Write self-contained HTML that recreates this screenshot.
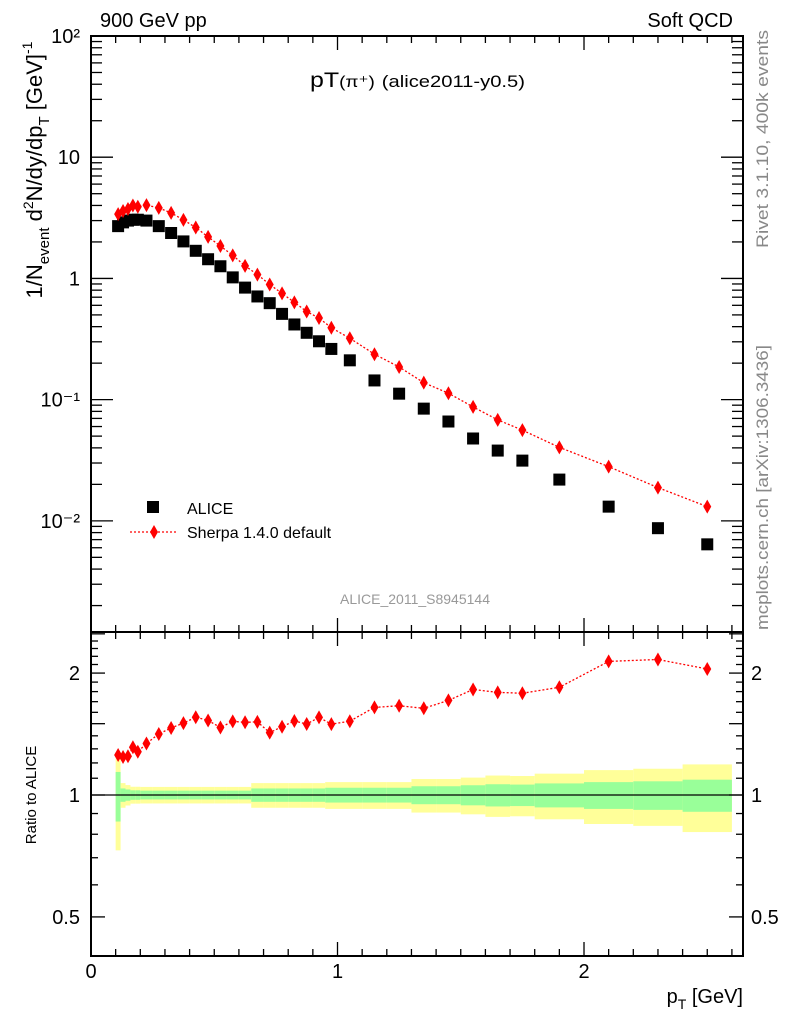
<!DOCTYPE html>
<html><head><meta charset="utf-8"><style>
body{margin:0;background:#fff;}
svg{display:block;font-family:"Liberation Sans",sans-serif;}
</style></head><body>
<svg id="c" width="786" height="1024" viewBox="0 0 786 1024">
<g id="bands"></g>
<g id="marks"></g>
<g id="axes"></g>
<text x="100" y="27" font-size="20">900 GeV pp</text>
<text x="733" y="27" font-size="20" text-anchor="end">Soft QCD</text>
<text x="310" y="87" font-size="21" textLength="215" lengthAdjust="spacingAndGlyphs">pT<tspan font-size="16">(π⁺)</tspan> <tspan font-size="17">(alice2011-y0.5)</tspan></text>
<text x="415" y="604" font-size="14" fill="#999" text-anchor="middle">ALICE_2011_S8945144</text>
<text transform="translate(768,30) rotate(-90)" font-size="17" fill="#888" text-anchor="end" textLength="218" lengthAdjust="spacingAndGlyphs">Rivet 3.1.10,  400k events</text>
<text transform="translate(768,630) rotate(-90)" font-size="17" fill="#888" textLength="285" lengthAdjust="spacingAndGlyphs">mcplots.cern.ch [arXiv:1306.3436]</text>
<text transform="translate(42,170) rotate(-90)" font-size="22" text-anchor="middle">1/N<tspan font-size="15" dy="7">event</tspan><tspan dy="-7"> d</tspan><tspan font-size="14" dy="-9">2</tspan><tspan dy="9">N/dy/dp</tspan><tspan font-size="15" dy="7">T</tspan><tspan dy="-7">  [GeV]</tspan><tspan font-size="14" dy="-10">-1</tspan></text>
<text transform="translate(36,795) rotate(-90)" font-size="15" text-anchor="middle">Ratio to ALICE</text>
<text x="743" y="1003" font-size="20" text-anchor="end">p<tspan font-size="14" dy="6">T</tspan><tspan dy="-6"> [GeV]</tspan></text>
<g>
<rect x="147" y="501" width="12" height="12" fill="#000"/>
<text x="187" y="514" font-size="16">ALICE</text>
<line x1="130" y1="532" x2="178" y2="532" stroke="red" stroke-width="1.3" stroke-dasharray="2,2"/>
<path d="M154 525 L158 532 L154 539 L150 532 Z" fill="red"/>
<text x="187" y="538" font-size="16">Sherpa 1.4.0 default</text>
</g>
</svg>
<script>
const ptCenters=[0.11,0.13,0.15,0.17,0.19,0.225,0.275,0.325,0.375,0.425,0.475,0.525,0.575,0.625,0.675,0.725,0.775,0.825,0.875,0.925,0.975,1.05,1.15,1.25,1.35,1.45,1.55,1.65,1.75,1.9,2.1,2.3,2.5];
const binEdges=[0.1,0.12,0.14,0.16,0.18,0.2,0.25,0.3,0.35,0.4,0.45,0.5,0.55,0.6,0.65,0.7,0.75,0.8,0.85,0.9,0.95,1.0,1.1,1.2,1.3,1.4,1.5,1.6,1.7,1.8,2.0,2.2,2.4,2.6];
const aliceValues=[2.7,2.9,3.0,3.05,3.05,3.0,2.7,2.37,2.02,1.69,1.44,1.26,1.02,0.84,0.71,0.625,0.51,0.417,0.356,0.303,0.262,0.211,0.144,0.112,0.0843,0.066,0.0478,0.038,0.0314,0.0219,0.0131,0.0087,0.0064];
const sherpaValues=[3.39,3.60,3.74,4.00,3.90,4.02,3.82,3.47,3.04,2.63,2.20,1.85,1.55,1.27,1.076,0.891,0.752,0.635,0.533,0.471,0.392,0.321,0.237,0.186,0.138,0.113,0.0871,0.0681,0.056,0.0404,0.028,0.0188,0.0131];
const innerErr=[0.14,0.038,0.032,0.027,0.027,0.025,0.025,0.025,0.025,0.025,0.025,0.025,0.025,0.025,0.038,0.038,0.038,0.038,0.038,0.038,0.042,0.042,0.042,0.042,0.051,0.051,0.057,0.063,0.061,0.068,0.076,0.081,0.091];
const outerErr=[0.27,0.07,0.058,0.048,0.048,0.047,0.047,0.047,0.047,0.047,0.047,0.047,0.047,0.047,0.07,0.07,0.07,0.07,0.07,0.07,0.076,0.076,0.076,0.076,0.095,0.095,0.104,0.117,0.114,0.129,0.152,0.161,0.19];
const mainYLabels=["10²","10","1","10⁻¹","10⁻²"];
const ratioYLabels=["2","1","0.5"];
const xLabels=["0","1","2"];

const NS="http://www.w3.org/2000/svg";
const L=91,R=743,T=36,M=632,B=956;
const X=v=>L+(v-0)/2.645*(R-L);
const YM=v=>T+(2-Math.log10(v))*(M-T)/(2+2.917);
const YR=v=>795-Math.log10(v)*405;
function mk(tag,attrs,parent){const e=document.createElementNS(NS,tag);for(const k in attrs)e.setAttribute(k,attrs[k]);parent.appendChild(e);return e;}
const axes=document.getElementById('axes'),marks=document.getElementById('marks'),bands=document.getElementById('bands');

for(let i=0;i<binEdges.length-1;i++){
  const x1=X(binEdges[i]),x2=X(binEdges[i+1]);
  const y=mk('rect',{x:x1,y:YR(1+outerErr[i]),width:x2-x1,height:YR(1-outerErr[i])-YR(1+outerErr[i]),fill:'#ffff99'},bands);
  
  
  const g=mk('rect',{x:x1,y:YR(1+innerErr[i]),width:x2-x1,height:YR(1-innerErr[i])-YR(1+innerErr[i]),fill:'#99ff99'},bands);
  
  
}
const one=mk('line',{x1:L,x2:R,y1:YR(1),y2:YR(1),stroke:'#000','stroke-width':1.3},axes);



let pts=sherpaValues.map((v,i)=>X(ptCenters[i])+','+YM(v)).join(' ');
const sl=mk('polyline',{points:pts,fill:'none',stroke:'red','stroke-width':1.3,'stroke-dasharray':'2,2'},marks);


aliceValues.forEach((v,i)=>{
  const r=mk('rect',{x:X(ptCenters[i])-6,y:YM(v)-6,width:12,height:12,fill:'#000'},marks);
  
  
});
function diamond(x,y,p){const d=mk('path',{d:`M${x} ${y-7}L${x+4} ${y}L${x} ${y+7}L${x-4} ${y}Z`,fill:'red'},p);return d;}
sherpaValues.forEach((v,i)=>{
  const d=diamond(X(ptCenters[i]),YM(v),marks);
  
  
});
const ratios=sherpaValues.map((v,i)=>v/aliceValues[i]);
pts=ratios.map((v,i)=>X(ptCenters[i])+','+YR(v)).join(' ');
const rl=mk('polyline',{points:pts,fill:'none',stroke:'red','stroke-width':1.3,'stroke-dasharray':'2,2'},marks);


ratios.forEach((v,i)=>{
  const d=diamond(X(ptCenters[i]),YR(v),marks);
  
  
});

[[T,M],[M,B]].forEach(([a,b])=>{
  const f=mk('rect',{x:L,y:a,width:R-L,height:b-a,fill:'none',stroke:'#000','stroke-width':2},axes);
  
  
});
function tick(x1,y1,x2,y2){mk('line',{x1,y1,x2,y2,stroke:'#000','stroke-width':1.3},axes);}
for(let k=0;k<=26;k++){
  const v=k/10,x=X(v),len=(k%10===0)?14:7;
  [T,M].forEach(y=>tick(x,y,x,y+len));
  [M,B].forEach(y=>tick(x,y,x,y-len));
}
xLabels.forEach((s,i)=>{
  const t=mk('text',{x:X(i),y:978,'font-size':20,'text-anchor':'middle'},axes);t.textContent=s;
  
  
});
for(let e=-3;e<2;e++){for(let m=1;m<10;m++){const v=m*Math.pow(10,e);if(v<Math.pow(10,-2.917))continue;
  const y=YM(v),len=m===1?22:11;tick(L,y,L+len,y);tick(R,y,R-len,y);}}
tick(L,YM(100),L+22,YM(100));
mainYLabels.forEach((s,i)=>{
  const t=mk('text',{x:80,y:YM(Math.pow(10,2-i))+7,'font-size':20,'text-anchor':'end'},axes);t.textContent=s;
  
  
});
for(let k=4;k<=25;k++){const v=k/10,y=YR(v);if(y<M||y>B)continue;const len=(k%5===0)?14:7;tick(L,y,L+len,y);tick(R,y,R-len,y);}
ratioYLabels.forEach(s=>{
  const v=parseFloat(s);
  const t=mk('text',{x:80,y:YR(v)+7,'font-size':20,'text-anchor':'end'},axes);t.textContent=s;
  
  
  const t2=mk('text',{x:751,y:YR(v)+7,'font-size':20},axes);t2.textContent=s;
  
  
});
</script>
</body></html>
